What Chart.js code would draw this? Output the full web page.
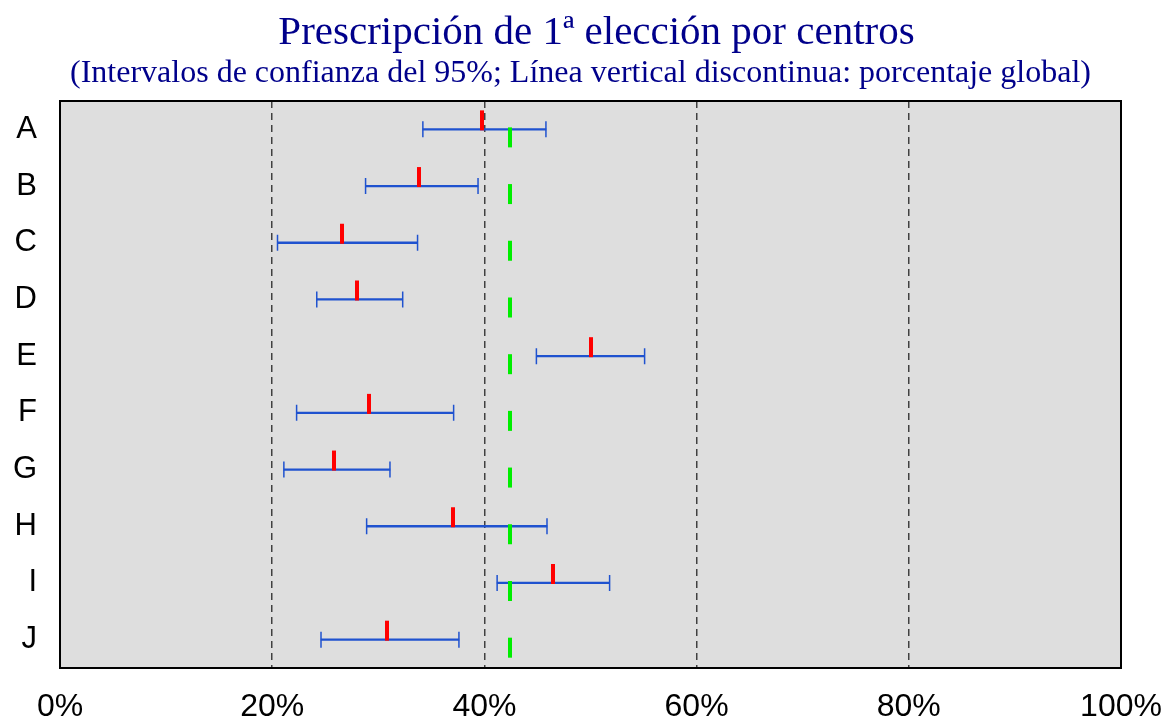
<!DOCTYPE html>
<html lang="es">
<head>
    <meta charset="UTF-8">
    <title>Prescripción de 1ª elección por centros</title>
    <script src="https://cdn.jsdelivr.net/npm/chart.js@4.4.1/dist/chart.umd.min.js"></script>
    <style>
        html, body { margin: 0; padding: 0; background: #fff; }
        #wrap { width: 1171px; height: 722px; }
    </style>
</head>
<body>
<div id="wrap"><canvas id="grafico"></canvas></div>
<script>
    // datos (porcentajes)
    var centros = ["A", "B", "C", "D", "E", "F", "G", "H", "I", "J"];
    var estimacion = [39.8, 33.8, 26.6, 28.0, 50.0, 29.1, 25.8, 37.0, 46.5, 30.8];
    var limInf = [34.2, 28.8, 20.5, 24.2, 44.9, 22.3, 21.1, 28.9, 41.2, 24.6];
    var limSup = [45.8, 39.4, 33.7, 32.3, 55.1, 37.1, 31.1, 45.9, 51.8, 37.6];
    var global = 42.4;
    var ticksX = [0, 20, 40, 60, 80, 100];

    var titulo = "Prescripción de 1ª elección por centros";
    var subtitulo = "(Intervalos de confianza del 95%; Línea vertical discontinua: porcentaje global)";

    var azul = "#1f52cf";
    var serif = "'Liberation Serif', 'Times New Roman', serif";
    var sans = "'Liberation Sans', Arial, sans-serif";

    // marcas como imagenes de canvas (centradas en el punto)
    function marca(color, w, h, y0, y1) {
        var c = document.createElement("canvas");
        c.width = w; c.height = h;
        var g = c.getContext("2d");
        g.fillStyle = color;
        g.fillRect(0, y0, w, y1 - y0);
        return c;
    }
    var marcaRoja = marca("#ff0000", 4, 40, 1, 21);
    var marcaVerde = marca("#00ee00", 4, 40, 18, 38);

    var fondo = {
        id: "fondo",
        beforeDraw: function (chart) {
            var a = chart.chartArea, ctx = chart.ctx;
            ctx.save();
            ctx.fillStyle = "#dedede";
            ctx.fillRect(a.left, a.top, a.right - a.left, a.bottom - a.top);
            // titulos, centrados sobre el area del grafico
            var cx = (a.left + a.right) / 2;
            ctx.fillStyle = "#00008b";
            ctx.textAlign = "center";
            ctx.textBaseline = "alphabetic";
            ctx.font = "41px " + serif;
            ctx.fillText(titulo, cx + 6, 44);
            ctx.font = "32px " + serif;
            ctx.fillText(subtitulo, cx - 10, 82);
            ctx.restore();
        },
        afterDraw: function (chart) {
            var a = chart.chartArea, ctx = chart.ctx;
            ctx.save();
            ctx.strokeStyle = "#000";
            ctx.lineWidth = 2;
            ctx.strokeRect(a.left, a.top, a.right - a.left, a.bottom - a.top);
            ctx.restore();
        }
    };

    new Chart("grafico", {
        type: "bar",
        data: {
            labels: centros,
            datasets: [
                {
                    type: "bar",
                    data: centros.map(function (c, i) { return [limInf[i], limSup[i]]; }),
                    backgroundColor: azul,
                    barThickness: 1.6,
                    order: 4
                },
                {
                    type: "scatter",
                    data: centros.map(function (c, i) { return { x: limInf[i], y: c }; })
                        .concat(centros.map(function (c, i) { return { x: limSup[i], y: c }; })),
                    pointStyle: "line",
                    rotation: 90,
                    radius: 8,
                    borderColor: azul,
                    borderWidth: 1.5,
                    order: 3
                },
                {
                    type: "scatter",
                    data: centros.map(function (c, i) { return { x: estimacion[i], y: c }; }),
                    pointStyle: marcaRoja,
                    order: 2
                },
                {
                    type: "scatter",
                    data: centros.map(function (c) { return { x: global, y: c }; }),
                    pointStyle: marcaVerde,
                    order: 1
                }
            ]
        },
        options: {
            indexAxis: "y",
            responsive: true,
            maintainAspectRatio: false,
            animation: false,
            layout: { padding: { right: 50, left: 0, top: 101, bottom: 0 } },
            plugins: {
                legend: { display: false },
                tooltip: { enabled: false },
                title: { display: false }
            },
            scales: {
                x: {
                    type: "linear",
                    min: 0,
                    max: 100,
                    afterBuildTicks: function (s) { s.ticks = ticksX.map(function (v) { return { value: v }; }); },
                    afterFit: function (s) { s.height = 54; s.paddingLeft = 0; s.paddingRight = 0; },
                    grid: {
                        drawTicks: false,
                        color: function (c) { return (c.tick && (c.tick.value === 0 || c.tick.value === 100)) ? "rgba(0,0,0,0)" : "#404040"; },
                        lineWidth: 1.5
                    },
                    border: { display: false, dash: [7, 5] },
                    ticks: {
                        callback: function (v) { return v + "%"; },
                        color: "#000",
                        padding: 20,
                        maxRotation: 0,
                        font: { family: sans, size: 32 }
                    }
                },
                y: {
                    type: "category",
                    offset: true,
                    afterFit: function (s) { s.width = 60; s.paddingTop = 0; s.paddingBottom = 0; },
                    grid: { display: false, drawTicks: false },
                    border: { display: false },
                    ticks: {
                        color: "#000",
                        padding: 23,
                        font: { family: sans, size: 31 }
                    }
                }
            }
        },
        plugins: [fondo]
    });
</script>
</body>
</html>
